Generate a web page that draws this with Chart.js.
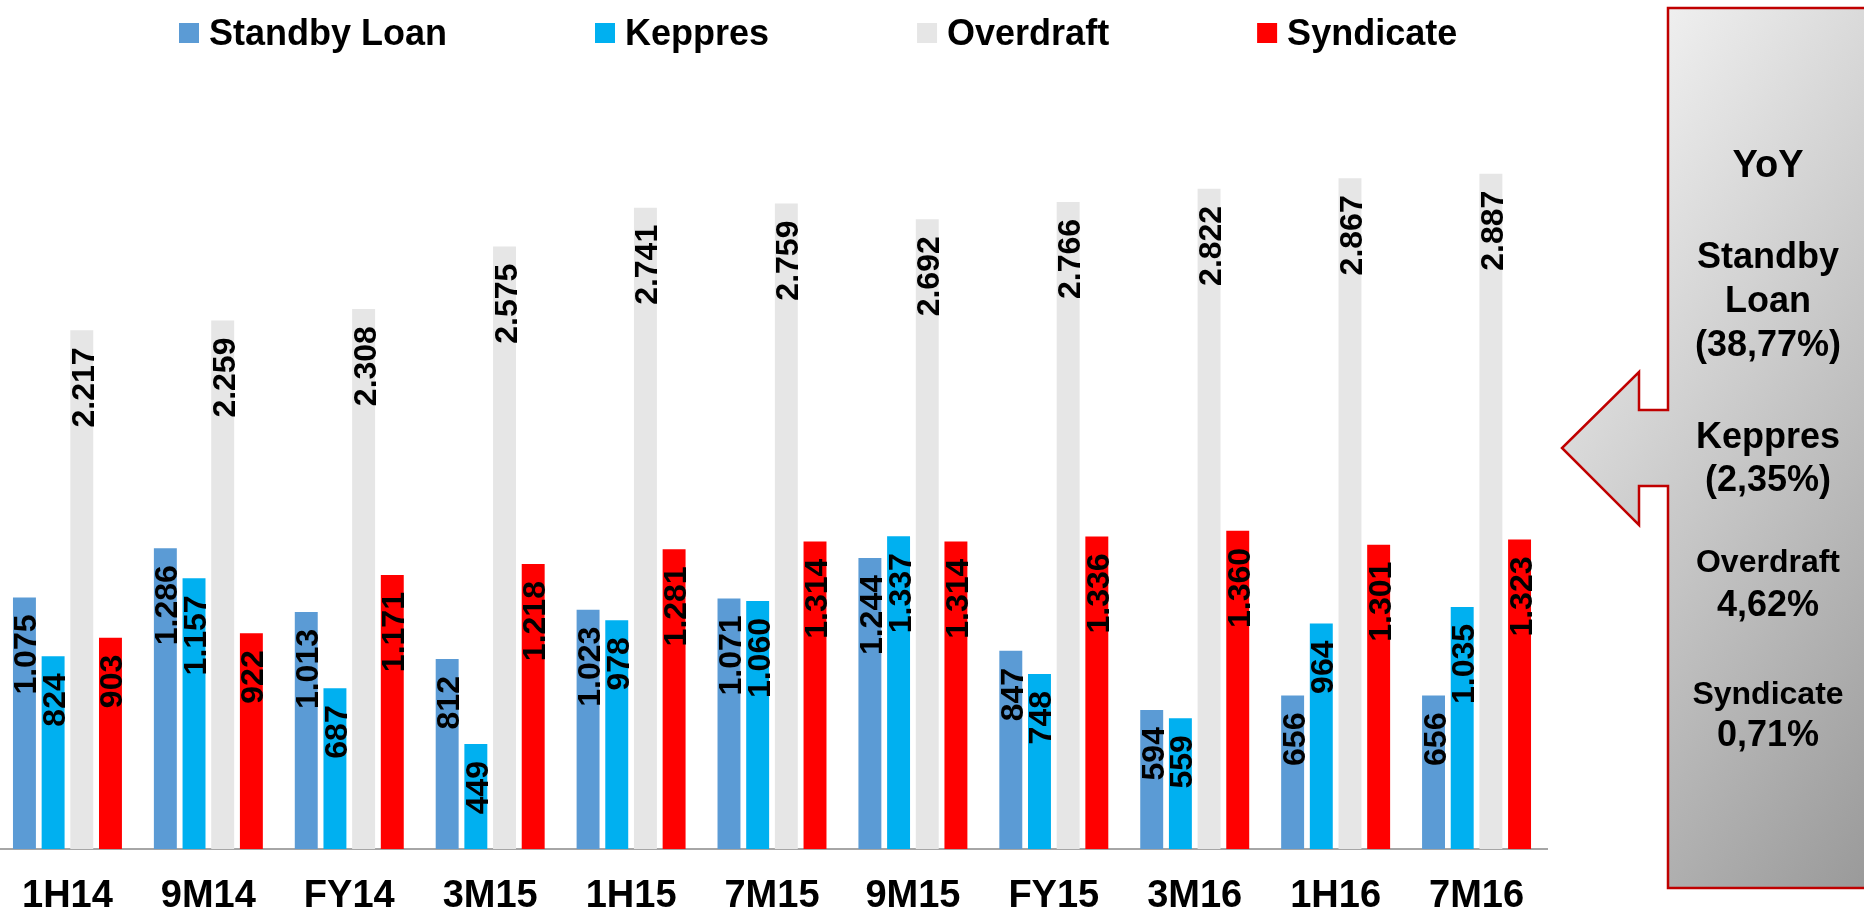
<!DOCTYPE html>
<html>
<head>
<meta charset="utf-8">
<script src="https://cdn.jsdelivr.net/npm/chart.js@4.4.1/dist/chart.umd.min.js"></script>
<style>
  html, body { margin:0; padding:0; background:#ffffff; width:1864px; height:914px; overflow:hidden; }
  #wrap { position:absolute; left:-3px; top:0; width:1867px; height:914px; }
  #callout { position:absolute; left:0; top:0; }
</style>
</head>
<body>
<div id="wrap"><canvas id="c" width="1867" height="914"></canvas></div>
<svg id="callout" width="1864" height="914" xmlns="http://www.w3.org/2000/svg">
  <defs>
    <linearGradient id="calloutFill" gradientUnits="userSpaceOnUse" x1="1668" y1="8" x2="2212" y2="383">
      <stop offset="0" stop-color="#EFEFEF"/>
      <stop offset="1" stop-color="#9A9A9A"/>
    </linearGradient>
  </defs>
  <polygon points="1668,8 1872,8 1872,888 1668,888 1668,486 1639,486 1639,525 1562,448 1639,372 1639,410 1668,410"
           fill="url(#calloutFill)" stroke="#C00000" stroke-width="2.5"/>
  <g id="calloutText" font-family="'Liberation Sans', Arial, sans-serif" font-weight="bold" text-anchor="middle" fill="#000000"></g>
</svg>
<script>
// ---------- data ----------
const categories   = ['1H14','9M14','FY14','3M15','1H15','7M15','9M15','FY15','3M16','1H16','7M16'];
const standbyLoan  = [1075, 1286, 1013,  812, 1023, 1071, 1244,  847,  594,  656,  656];
const keppres      = [ 824, 1157,  687,  449,  978, 1060, 1337,  748,  559,  964, 1035];
const overdraft    = [2217, 2259, 2308, 2575, 2741, 2759, 2692, 2766, 2822, 2867, 2887];
const syndicate    = [ 903,  922, 1171, 1218, 1281, 1314, 1314, 1336, 1360, 1301, 1323];
const seriesNames  = ['Standby Loan', 'Keppres', 'Overdraft', 'Syndicate'];
const seriesColors = ['#5B9BD5', '#00B0F0', '#E6E6E6', '#FF0000'];
const calloutLines = ['YoY', 'Standby', 'Loan', '(38,77%)', 'Keppres', '(2,35%)', 'Overdraft', '4,62%', 'Syndicate', '0,71%'];

// ---------- callout text (layout only) ----------
const calloutLayout = [
  {y:177, s:38}, {y:268, s:36}, {y:312, s:36}, {y:356, s:36},
  {y:448, s:36}, {y:491, s:36}, {y:572, s:32}, {y:616, s:36},
  {y:704, s:32}, {y:746, s:36}
];
const g = document.getElementById('calloutText');
calloutLines.forEach((txt, i) => {
  const t = document.createElementNS('http://www.w3.org/2000/svg', 'text');
  t.setAttribute('x', 1768);
  t.setAttribute('y', calloutLayout[i].y);
  t.setAttribute('font-size', calloutLayout[i].s);
  t.textContent = txt;
  g.appendChild(t);
});

// ---------- helpers ----------
const FONT = '"Liberation Sans", Arial, sans-serif';
const fmt = v => String(v).replace(/\B(?=(\d{3})+(?!\d))/g, '.');

const valueLabels = {
  id: 'valueLabels',
  afterDatasetsDraw(chart) {
    const ctx = chart.ctx;
    chart.data.datasets.forEach((ds, i) => {
      const meta = chart.getDatasetMeta(i);
      meta.data.forEach((bar, j) => {
        ctx.save();
        ctx.font = 'bold 32px ' + FONT;
        ctx.fillStyle = '#000000';
        ctx.translate(bar.x + 12, bar.y + 17);
        ctx.rotate(-Math.PI / 2);
        ctx.textAlign = 'right';
        ctx.textBaseline = 'alphabetic';
        ctx.fillText(fmt(ds.data[j]), 0, 0);
        ctx.restore();
      });
    });
  }
};

const customLegend = {
  id: 'customLegend',
  afterDraw(chart) {
    const ctx = chart.ctx;
    ctx.save();
    ctx.font = 'bold 36px ' + FONT;
    ctx.textAlign = 'left';
    ctx.textBaseline = 'alphabetic';
    let x = 182;
    chart.data.datasets.forEach((ds) => {
      ctx.fillStyle = ds.backgroundColor;
      ctx.fillRect(x, 23, 20, 20);
      ctx.fillStyle = '#000000';
      const tx = x + 30;
      ctx.fillText(ds.label, tx, 45);
      x = tx + ctx.measureText(ds.label).width + 148;
    });
    ctx.restore();
  }
};

const seriesData = [standbyLoan, keppres, overdraft, syndicate];

new Chart(document.getElementById('c'), {
  type: 'bar',
  data: {
    labels: categories,
    datasets: seriesNames.map((name, i) => ({
      label: name,
      data: seriesData[i],
      backgroundColor: seriesColors[i],
      borderWidth: 0,
      categoryPercentage: 0.814,
      barPercentage: 0.80
    }))
  },
  options: {
    responsive: false,
    animation: false,
    layout: { padding: { top: 70, left: 0, right: 317, bottom: 4 } },
    plugins: { legend: { display: false }, tooltip: { enabled: false } },
    scales: {
      x: {
        grid: { display: false, drawTicks: false },
        border: { display: true, color: '#A6A6A6', width: 2 },
        ticks: {
          color: '#000000',
          font: { family: FONT, size: 38, weight: 'bold', lineHeight: 2.263 },
          padding: 5,
          maxRotation: 0,
          autoSkip: false
        },
        afterFit(scale) { scale.height = 61; }
      },
      y: { display: false, min: 0, max: 3330 }
    }
  },
  plugins: [valueLabels, customLegend]
});
</script>
</body>
</html>
